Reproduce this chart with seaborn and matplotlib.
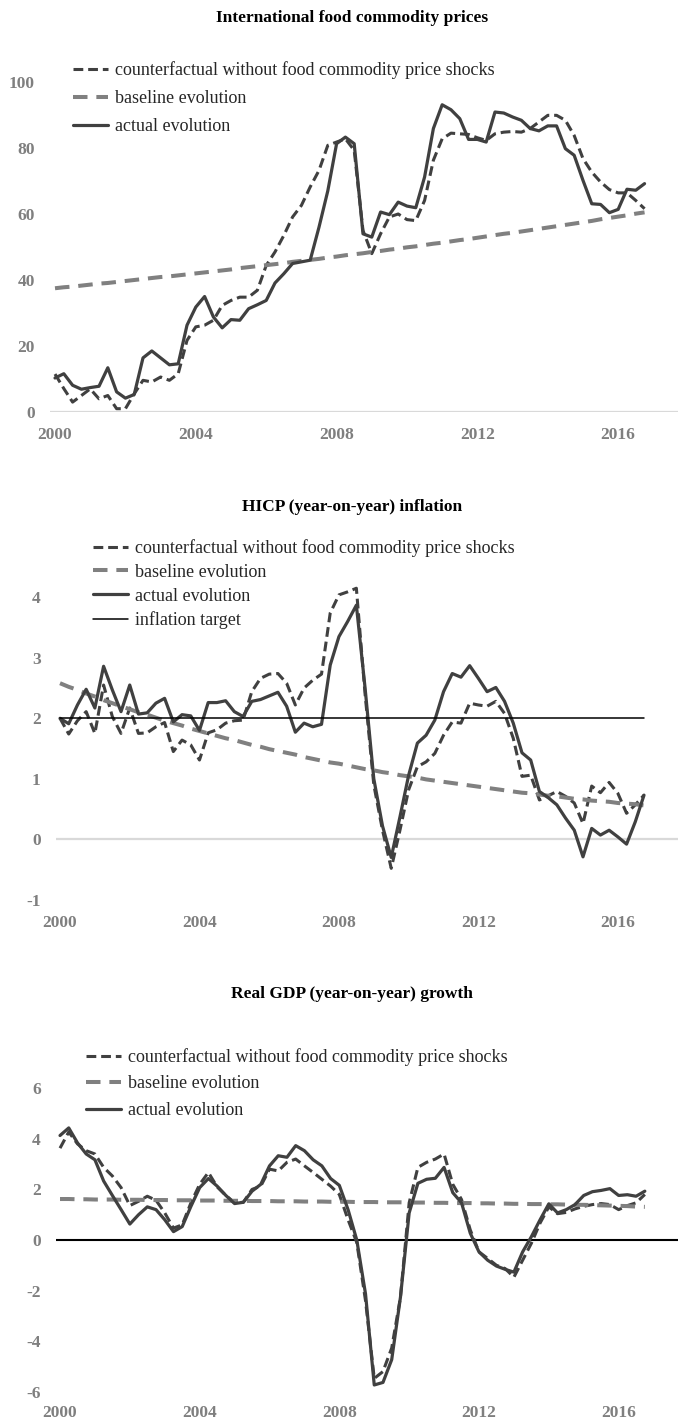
import matplotlib
matplotlib.use("Agg")
import matplotlib.pyplot as plt
import seaborn as sns
import numpy as np
import pandas as pd

sns.set_theme(style="white")
plt.rcParams["font.family"] = ["Liberation Serif", "DejaVu Serif"]

# Quarterly observations, 2000Q1 .. 2016Q4
quarters = pd.period_range("2000Q1", "2016Q4", freq="Q").astype(str).tolist()
year_ticks = [0, 16, 32, 48, 64]
year_labels = ["2000", "2004", "2008", "2012", "2016"]

# --- International food commodity prices ---
food_counterfactual = [
    11.5, 7.1, 3.0, 5.0, 7.0, 4.0, 5.0, 1.0, 1.0, 5.5, 9.6, 9.1, 10.6, 9.6, 11.6, 21.7,
    25.8, 26.3, 27.8, 32.3, 33.8, 34.8, 34.8, 36.9, 44.4, 48.5, 53.5, 59.1, 62.6, 68.2, 73.2, 80.8,
    81.8, 82.8, 79.3, 55.0, 48.0, 54.0, 59.1, 60.0, 58.3, 58.0, 64.1, 76.3, 82.8, 84.5, 84.3, 84.1,
    83.1, 82.3, 84.3, 84.8, 85.0, 84.8, 85.9, 87.9, 89.9, 89.9, 88.4, 83.8, 76.8, 72.7, 69.7, 67.4,
    66.4, 66.4, 64.1, 61.6,
]
food_baseline = [
    37.5, 37.8, 38.0, 38.3, 38.6, 38.9, 39.1, 39.4, 39.7, 40.0, 40.3, 40.6, 40.9, 41.1, 41.4, 41.7,
    42.0, 42.3, 42.6, 42.9, 43.2, 43.6, 43.9, 44.2, 44.5, 44.8, 45.1, 45.5, 45.8, 46.1, 46.4, 46.8,
    47.1, 47.5, 47.8, 48.1, 48.5, 48.8, 49.2, 49.5, 49.9, 50.2, 50.6, 51.0, 51.3, 51.7, 52.1, 52.4,
    52.8, 53.2, 53.6, 54.0, 54.3, 54.7, 55.1, 55.5, 55.9, 56.3, 56.7, 57.1, 57.5, 57.9, 58.4, 58.8,
    59.2, 59.6, 60.1, 60.5,
]
food_actual = [
    10.3, 11.6, 8.1, 6.9, 7.4, 7.8, 13.4, 6.1, 4.2, 5.3, 16.4, 18.5, 16.4, 14.3, 14.6, 26.3,
    31.8, 35.0, 28.8, 25.5, 28.0, 27.8, 31.3, 32.5, 33.8, 39.1, 41.9, 45.0, 45.5, 46.0, 56.0, 67.0,
    81.3, 83.3, 81.3, 54.0, 53.0, 60.6, 59.8, 63.6, 62.4, 61.9, 71.2, 85.9, 93.1, 91.6, 88.9, 82.6,
    82.6, 81.8, 90.9, 90.6, 89.4, 88.4, 85.9, 85.2, 86.7, 86.7, 79.8, 77.8, 70.2, 63.1, 62.9, 60.4,
    61.4, 67.5, 67.2, 69.2,
]

# --- HICP (year-on-year) inflation ---
hicp_counterfactual = [
    2.00, 1.74, 1.96, 2.11, 1.75, 2.55, 2.03, 1.75, 2.17, 1.75, 1.76, 1.86, 1.93, 1.45, 1.64, 1.56,
    1.31, 1.76, 1.81, 1.92, 1.96, 1.97, 2.44, 2.66, 2.73, 2.74, 2.58, 2.22, 2.50, 2.63, 2.73, 3.74,
    4.04, 4.09, 4.15, 2.40, 0.90, 0.15, -0.48, 0.15, 0.82, 1.20, 1.28, 1.42, 1.72, 1.94, 1.92, 2.25,
    2.22, 2.20, 2.28, 2.08, 1.67, 1.04, 1.06, 0.65, 0.72, 0.79, 0.71, 0.60, 0.26, 0.88, 0.77, 0.94,
    0.76, 0.43, 0.57, 0.73,
]
hicp_baseline = [
    2.58, 2.52, 2.47, 2.41, 2.36, 2.30, 2.25, 2.20, 2.15, 2.10, 2.06, 2.01, 1.96, 1.92, 1.88, 1.83,
    1.79, 1.75, 1.71, 1.67, 1.64, 1.60, 1.56, 1.53, 1.49, 1.46, 1.43, 1.40, 1.36, 1.33, 1.30, 1.27,
    1.25, 1.22, 1.19, 1.16, 1.14, 1.11, 1.09, 1.06, 1.04, 1.02, 0.99, 0.97, 0.95, 0.93, 0.91, 0.89,
    0.87, 0.85, 0.83, 0.81, 0.79, 0.77, 0.76, 0.74, 0.72, 0.71, 0.69, 0.67, 0.66, 0.64, 0.63, 0.62,
    0.60, 0.59, 0.58, 0.56,
]
hicp_actual = [
    2.00, 1.91, 2.22, 2.48, 2.17, 2.86, 2.47, 2.11, 2.55, 2.07, 2.09, 2.25, 2.33, 1.94, 2.06, 2.04,
    1.80, 2.26, 2.26, 2.29, 2.11, 2.03, 2.28, 2.31, 2.37, 2.43, 2.20, 1.77, 1.92, 1.86, 1.90, 2.88,
    3.35, 3.60, 3.87, 2.50, 1.00, 0.22, -0.30, 0.37, 1.06, 1.59, 1.72, 1.97, 2.44, 2.74, 2.68, 2.87,
    2.66, 2.44, 2.51, 2.28, 1.92, 1.43, 1.31, 0.79, 0.69, 0.57, 0.35, 0.15, -0.29, 0.18, 0.07, 0.15,
    0.04, -0.08, 0.29, 0.73,
]
hicp_target = [2.0] * 68

# --- Real GDP (year-on-year) growth ---
gdp_counterfactual = [
    3.63, 4.27, 3.80, 3.53, 3.40, 2.87, 2.53, 2.07, 1.36, 1.53, 1.73, 1.57, 1.07, 0.47, 0.60, 1.47,
    2.20, 2.67, 2.10, 1.76, 1.47, 1.49, 2.00, 2.13, 2.80, 2.73, 3.07, 3.20, 2.93, 2.67, 2.40, 2.13,
    1.80, 0.80, -0.10, -2.40, -5.47, -5.20, -4.27, -2.27, 1.47, 2.87, 3.07, 3.20, 3.40, 2.20, 1.60, 0.40,
    -0.47, -0.73, -1.00, -1.13, -1.47, -0.80, -0.13, 0.67, 1.31, 1.04, 1.09, 1.23, 1.33, 1.40, 1.44, 1.40,
    1.20, 1.36, 1.47, 1.80,
]
gdp_baseline = [
    1.62, 1.62, 1.61, 1.61, 1.60, 1.60, 1.60, 1.59, 1.59, 1.59, 1.58, 1.58, 1.58, 1.57, 1.57, 1.57,
    1.56, 1.56, 1.56, 1.55, 1.55, 1.55, 1.54, 1.54, 1.54, 1.53, 1.53, 1.53, 1.52, 1.52, 1.52, 1.51,
    1.51, 1.51, 1.50, 1.50, 1.50, 1.49, 1.49, 1.49, 1.48, 1.48, 1.48, 1.47, 1.47, 1.46, 1.46, 1.46,
    1.45, 1.45, 1.44, 1.44, 1.43, 1.43, 1.42, 1.42, 1.41, 1.41, 1.40, 1.39, 1.39, 1.38, 1.37, 1.36,
    1.35, 1.34, 1.32, 1.31,
]
gdp_actual = [
    4.13, 4.43, 3.84, 3.40, 3.17, 2.33, 1.76, 1.20, 0.63, 1.00, 1.31, 1.20, 0.80, 0.33, 0.53, 1.33,
    2.07, 2.43, 2.13, 1.76, 1.44, 1.49, 1.93, 2.20, 2.93, 3.33, 3.27, 3.73, 3.53, 3.17, 2.93, 2.43,
    2.16, 1.20, 0.00, -2.13, -5.73, -5.63, -4.73, -2.27, 1.07, 2.24, 2.40, 2.44, 2.87, 1.87, 1.47, 0.27,
    -0.47, -0.80, -1.03, -1.16, -1.27, -0.47, 0.13, 0.80, 1.43, 1.07, 1.20, 1.40, 1.76, 1.91, 1.96, 2.03,
    1.76, 1.79, 1.73, 1.93,
]

LBL_CF = "counterfactual without food commodity price shocks"
LBL_BASE = "baseline evolution"
LBL_ACT = "actual evolution"
LBL_TGT = "inflation target"

DARK = "#404040"
MID = "#808080"
TICK = "#7f7f7f"
AXIS_GREY = "#d9d9d9"

W, H = 678, 1420
fig = plt.figure(figsize=(W / 100, H / 100), dpi=100)
fig.patch.set_facecolor("white")


def px_axes(left, right, top, bottom):
    return fig.add_axes([left / W, 1 - bottom / H, (right - left) / W, (bottom - top) / H])


def style_axes(ax, yticks, xlim, ylim, xpad):
    ax.set_facecolor("white")
    for s in ax.spines.values():
        s.set_visible(False)
    ax.set_xlim(*xlim)
    ax.set_ylim(*ylim)
    ax.set_xticks(year_ticks)
    ax.set_xticklabels(year_labels)
    ax.set_yticks(yticks)
    ax.set_yticklabels([f"{t:g}" for t in yticks])
    ax.tick_params(axis="both", length=0, labelsize=12.5, labelcolor=TICK)
    ax.tick_params(axis="x", pad=xpad)
    ax.tick_params(axis="y", pad=11)
    for lab in ax.get_xticklabels() + ax.get_yticklabels():
        lab.set_fontweight("bold")
    ax.set_xlabel("")
    ax.set_ylabel("")
    ax.grid(False)


def draw_series(ax, cf, base, act, target=None):
    idx = np.arange(len(quarters))
    df = pd.DataFrame({"q": idx, "cf": cf, "base": base, "act": act})
    sns.lineplot(data=df, x="q", y="cf", ax=ax, color=DARK, lw=2.2,
                 linestyle=(0, (3.2, 1.6)), label=LBL_CF, legend=False)
    sns.lineplot(data=df, x="q", y="base", ax=ax, color=MID, lw=2.9,
                 linestyle=(0, (3.6, 2.2)), label=LBL_BASE, legend=False)
    sns.lineplot(data=df, x="q", y="act", ax=ax, color=DARK, lw=2.3,
                 label=LBL_ACT, legend=False)
    if target is not None:
        df["tgt"] = target
        sns.lineplot(data=df, x="q", y="tgt", ax=ax, color="black", lw=1.1,
                     label=LBL_TGT, legend=False)


def add_legend(ax, x_px, y_px, spacing):
    handles, labels = ax.get_legend_handles_labels()
    leg = fig.legend(handles, labels, loc="upper left",
                     bbox_to_anchor=(x_px / W, 1 - y_px / H),
                     frameon=False, fontsize=13, handlelength=1.95,
                     handletextpad=0.35, borderpad=0, borderaxespad=0,
                     labelspacing=spacing)
    for t in leg.get_texts():
        t.set_color("#262626")
    return leg


def add_title(text, y_px):
    fig.text(352 / W, 1 - y_px / H, text, ha="center", va="center",
             fontsize=12.5, fontweight="bold", color="black")


# Panel 1: food commodity prices
ax1 = px_axes(50, 678, 412 - 108 * 3.3, 412)
draw_series(ax1, food_counterfactual, food_baseline, food_actual)
ax1.axhline(0, color=AXIS_GREY, lw=1.6, zorder=0)
style_axes(ax1, [0, 20, 40, 60, 80, 100], (-0.57, 70.8), (0, 108), 10.5)
add_title("International food commodity prices", 18)
add_legend(ax1, 73, 61, 0.62)

# Panel 2: HICP inflation
u2 = 60.5
ax2 = px_axes(56, 678, 839.3 - 4.4 * u2, 839.3 + u2)
draw_series(ax2, hicp_counterfactual, hicp_baseline, hicp_actual, hicp_target)
ax2.axhline(0, color=AXIS_GREY, lw=1.6, zorder=0)
style_axes(ax2, [-1, 0, 1, 2, 3, 4], (-0.46, 70.9), (-1, 4.4), 11)
add_title("HICP (year-on-year) inflation", 507)
add_legend(ax2, 93, 539, 0.38)

# Panel 3: real GDP growth
u3 = 25.3
ax3 = px_axes(56, 678, 1240 - 6.6 * u3, 1240 + 6 * u3)
draw_series(ax3, gdp_counterfactual, gdp_baseline, gdp_actual)
ax3.axhline(0, color="black", lw=1.5, zorder=1)
style_axes(ax3, [-6, -4, -2, 0, 2, 4, 6], (-0.46, 70.8), (-6, 6.6), 9.5)
add_title("Real GDP (year-on-year) growth", 994)
add_legend(ax3, 86, 1048, 0.53)

fig.savefig("out.png", dpi=100, facecolor="white")
